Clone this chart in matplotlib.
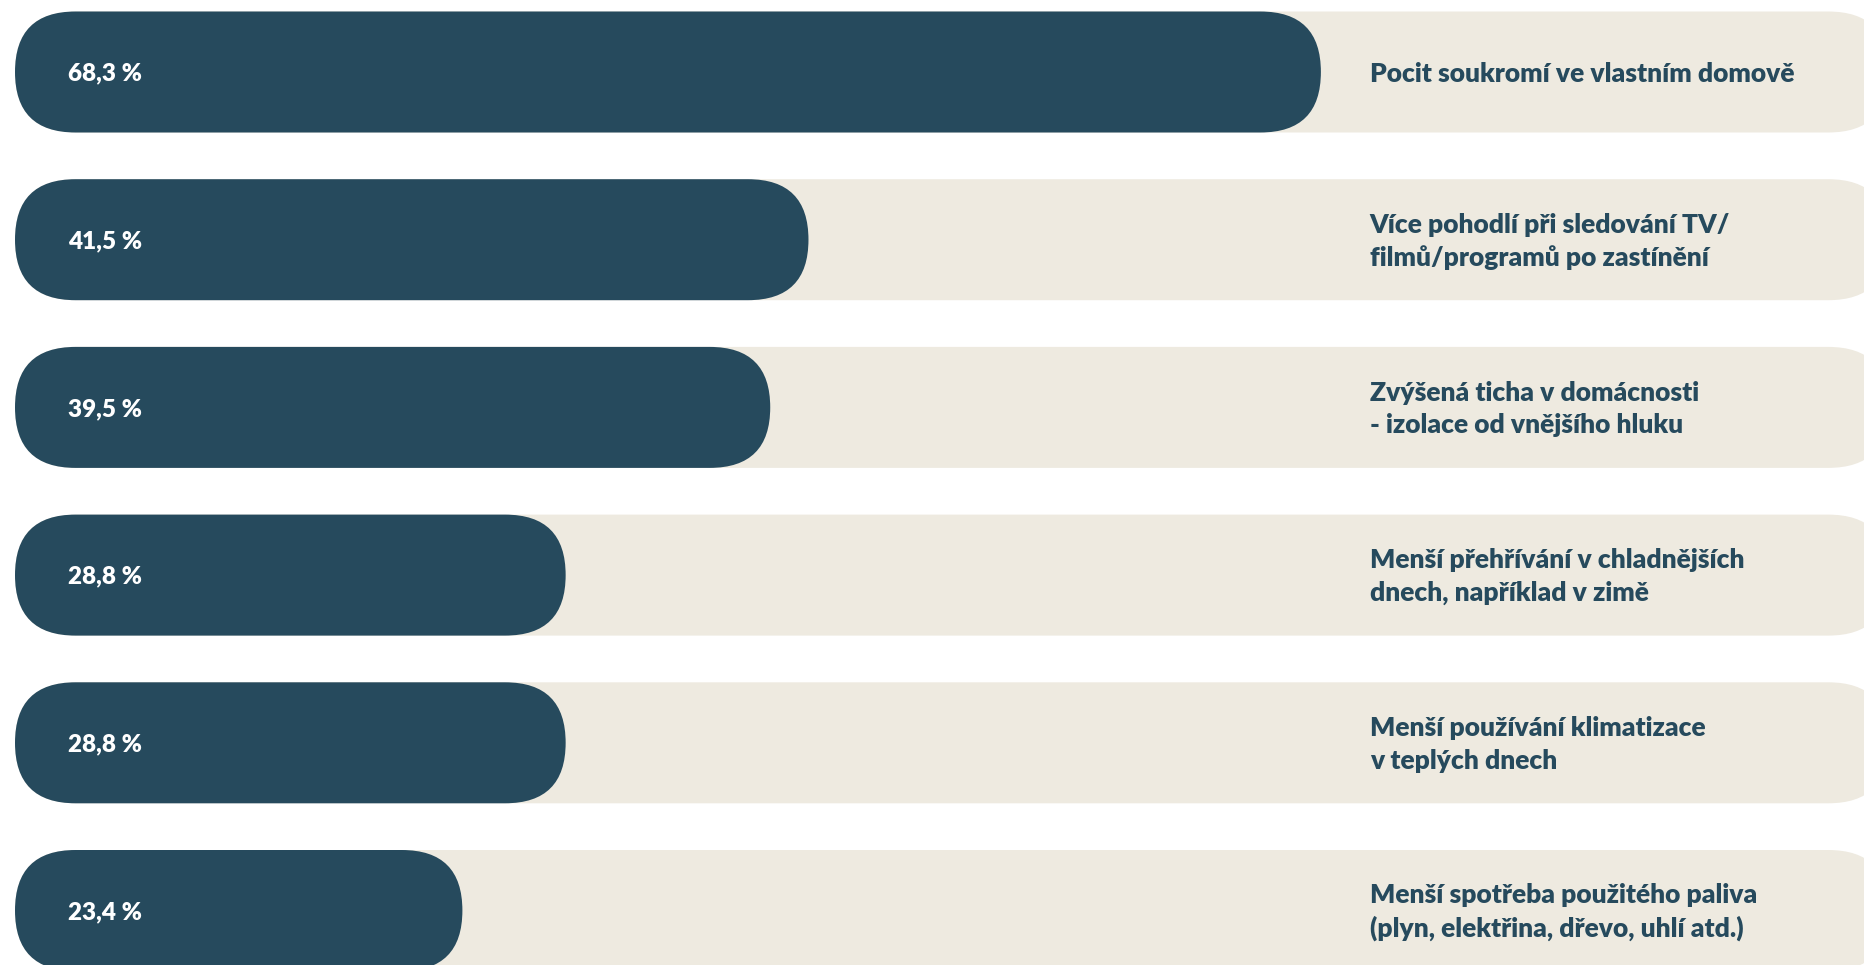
import matplotlib.pyplot as plt
from matplotlib.patches import FancyBboxPatch

# data
labels = [
    "Pocit soukromí ve vlastním domově",
    "Více pohodlí při sledování TV/\nfilmů/programů po zastínění",
    "Zvýšená ticha v domácnosti\n- izolace od vnějšího hluku",
    "Menší přehřívání v chladnějších\ndnech, například v zimě",
    "Menší používání klimatizace\nv teplých dnech",
    "Menší spotřeba použitého paliva\n(plyn, elektřina, dřevo, uhlí atd.)",
]
values = [68.3, 41.5, 39.5, 28.8, 28.8, 23.4]
value_texts = ["68,3 %", "41,5 %", "39,5 %", "28,8 %", "28,8 %", "23,4 %"]

dark = "#264a5d"
light = "#eeeae0"

W, H = 1865, 965
px_x = 19.12      # pixels per percent
px_y = 167.7      # pixels per row
x0 = 15           # left edge of bars in px
y0 = 72           # centre of first row in px

fig = plt.figure(figsize=(W / 100, H / 100), dpi=100)
ax = fig.add_axes([0, 0, 1, 1])
ax.set_xlim(-x0 / px_x, (W - x0) / px_x)
ax.set_ylim((H - y0) / px_y, -y0 / px_y)
ax.axis("off")

bar_h = 121 / px_y
rad = 60.5 / px_x
asp = px_x / px_y
bg_len = 98

for i, (lab, v, vt) in enumerate(zip(labels, values, value_texts)):
    bg = FancyBboxPatch((0, i - bar_h / 2), bg_len, bar_h,
                        boxstyle=f"round,pad=0,rounding_size={rad}",
                        mutation_aspect=asp, fc=light, ec="none")
    ax.add_patch(bg)
    fg = FancyBboxPatch((0, i - bar_h / 2), v, bar_h,
                        boxstyle=f"round,pad=0,rounding_size={rad}",
                        mutation_aspect=asp, fc=dark, ec="none")
    ax.add_patch(fg)
    ax.text(2.75, i + 0.01, vt, color="white", fontsize=17.5, fontweight="heavy",
            family="Lato", va="center", ha="left")
    ax.text(70.85, i + 0.01, lab, color=dark, fontsize=19, fontweight="heavy",
            family="Lato", va="center", ha="left", linespacing=1.42)

fig.savefig("out.png", dpi=100)
